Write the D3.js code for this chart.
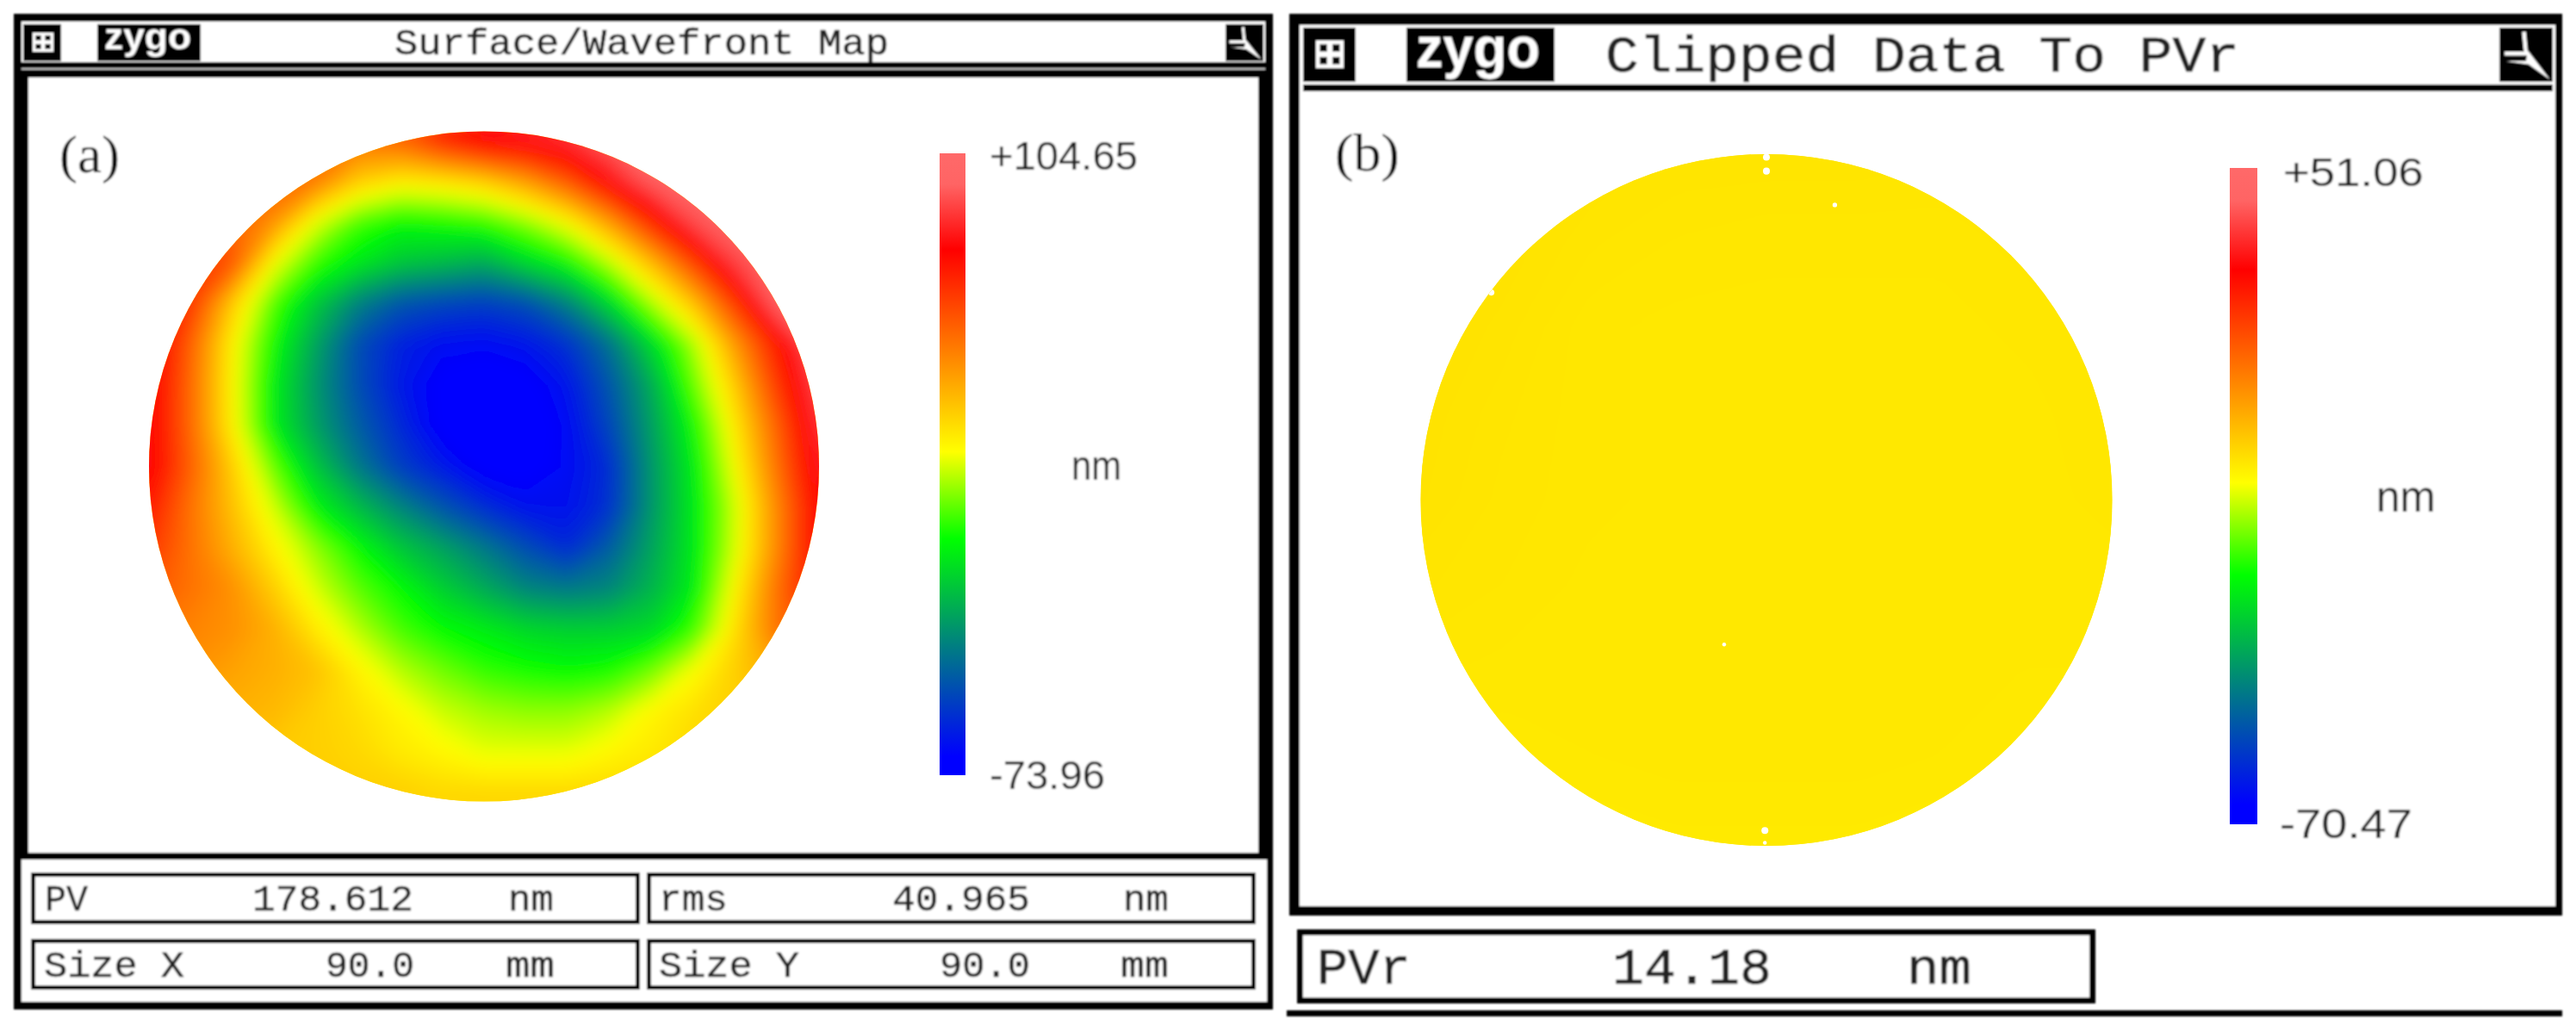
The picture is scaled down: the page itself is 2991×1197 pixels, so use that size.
<!DOCTYPE html>
<html><head><meta charset="utf-8">
<script src="https://cdn.jsdelivr.net/npm/d3@7"></script>
<style>html,body{margin:0;padding:0;background:#fff}svg{display:block}</style>
</head><body><svg id="c" width="2991" height="1197"></svg>
<script>
// Surface height (a), nm, 17 x 17 nodes over the 90 mm aperture
const surfaceA = [
 51,51,51,51,51,51,55,69,80,83,87,96,96,96,96,96,96,
 58,58,58,56,49,31,24,26,31,42,58,80,96,99,99,99,99,
 62,62,55,44,17,1,-6,-4,-1,8,21,42,69,92,99,99,99,
 69,65,58,19,-1,-11,-19,-22,-26,-15,-6,12,35,62,90,99,99,
 76,65,31,1,-19,-36,-47,-51,-53,-49,-36,-15,10,33,64,98,99,
 83,55,22,-6,-28,-49,-60,-65,-66,-63,-56,-40,-15,10,42,72,99,
 81,53,21,-10,-31,-49,-62,-70,-72,-71,-63,-47,-26,3,31,64,92,
 80,53,22,-10,-29,-45,-58,-71,-74,-73,-66,-51,-29,-6,24,55,87,
 80,55,30,3,-20,-38,-53,-62,-71,-71,-66,-57,-31,-10,19,51,83,
 72,51,33,14,-8,-22,-35,-47,-57,-64,-64,-56,-31,-11,14,46,78,
 65,51,37,22,8,-6,-19,-28,-38,-49,-58,-45,-28,-11,15,46,78,
 58,51,44,30,15,3,-6,-17,-26,-35,-38,-35,-24,-10,21,51,76,
 51,47,44,37,24,12,1,-6,-10,-15,-17,-17,-15,-1,26,51,65,
 47,44,40,37,33,22,12,5,-1,-4,-6,-4,5,19,30,40,51,
 37,37,37,35,30,26,21,14,10,8,8,12,21,26,30,33,37,
 33,33,33,31,30,28,24,21,17,17,17,21,24,28,28,28,28,
 33,33,33,31,31,30,30,28,28,28,28,28,28,28,28,28,28
];
// Residual height (b), nm, 9 x 9 nodes
const surfaceB = [
 -2.9,-2.9,-3.0,-3.2,-3.2,-3.2,-3.3,-3.3,-3.3,
 -2.9,-2.9,-3.3,-3.5,-3.6,-3.6,-3.6,-3.4,-3.4,
 -2.8,-3.1,-3.6,-3.7,-3.7,-3.7,-3.7,-3.6,-3.4,
 -2.9,-3.3,-3.6,-3.7,-3.8,-3.8,-3.8,-3.7,-3.5,
 -3.0,-3.4,-3.6,-3.7,-3.8,-3.8,-3.8,-3.7,-3.6,
 -3.3,-3.5,-3.7,-3.7,-3.8,-3.8,-3.8,-3.8,-3.7,
 -3.6,-3.7,-3.7,-3.7,-3.7,-3.7,-3.8,-3.8,-3.8,
 -3.9,-3.9,-3.8,-3.7,-3.7,-3.7,-3.8,-3.9,-4.0,
 -4.1,-4.1,-4.1,-4.0,-4.0,-4.0,-4.1,-4.2,-4.2
];
// Data drop-outs in picture (b): aperture x, y in mm (y up), radius in mm
const dropX = [0, 0, 8.9, -5.5, -0.2, -0.2, -35.8];
const dropY = [42.8, 44.6, 38.4, -18.8, -43, -44.6, 27];
const dropR = [0.45, 0.45, 0.3, 0.25, 0.45, 0.25, 0.4];

// Colour bar: fraction of the range and its colour
const barFractions = [0, 0.03, 0.21, 0.38, 0.52, 0.68, 0.845, 0.95, 1];
const barColours = ["#0000ff","#0000ff","#008080","#00ff00","#ffff00","#ff8000","#ff0000","#ff6464","#ff6969"];

const rangeA = [-73.96, 104.65];
const rangeB = [-70.47, 51.06];
const statLabels = ["PV","rms","Size X","Size Y","PVr"];
const statValues = ["178.612","40.965","90.0","90.0","14.18"];
const statUnits  = ["nm","nm","mm","mm","nm"];

const svg = d3.select("#c");
const defs = svg.append("defs");
defs.append("filter").attr("id","soft").attr("x","-5%").attr("y","-5%").attr("width","110%").attr("height","110%")
  .append("feGaussianBlur").attr("stdDeviation",0.9);
defs.append("filter").attr("id","map").attr("x","-5%").attr("y","-5%").attr("width","110%").attr("height","110%")
  .append("feGaussianBlur").attr("stdDeviation",10);

const frame = svg.append("g").attr("filter","url(#soft)");
const box = (g,x0,y0,x1,y1,f) => g.append("rect").attr("x",x0).attr("y",y0).attr("width",x1-x0).attr("height",y1-y0).attr("fill",f);
const txt = (g,s,x0,x1,base,size,font,fill,w,sw) => g.append("text").text(s)
   .attr("x",x0).attr("y",base).attr("font-family",font).attr("font-size",size).attr("fill",fill||"#111")
   .attr("font-weight",w||"normal").attr("stroke",sw?(fill||"#111"):"none").attr("stroke-width",sw||0)
   .attr("textLength",x1-x0).attr("lengthAdjust","spacingAndGlyphs");

const MONO = "'Liberation Mono',monospace", SANS = "'Liberation Sans',sans-serif", SERIF = "'Liberation Serif',serif";

function closeIcon(g,x0,y0,x1,y1,ix0,iy0,ix1,iy1){
  box(g,x0,y0,x1,y1,"#000");
  box(g,ix0,iy0,ix1,iy1,"#fff");
  const w=(ix1-ix0), h=(iy1-iy0);
  [[.14,.14],[.6,.14],[.14,.6],[.6,.6]].forEach(p=>box(g,ix0+p[0]*w,iy0+p[1]*h,ix0+(p[0]+.26)*w,iy0+(p[1]+.26)*h,"#000"));
}
function cornerIcon(g,x0,y0,x1,y1){
  box(g,x0,y0,x1,y1,"#000");
  const X=d3.scaleLinear([0,1],[x0,x1]),Y=d3.scaleLinear([0,1],[y0,y1]),w=(x1-x0)*.07;
  const l=d3.line().x(d=>X(d[0])).y(d=>Y(d[1]));
  g.append("path").attr("d",l([[.46,.08],[.5,.48],[.1,.48]])).attr("fill","none").attr("stroke","#fff").attr("stroke-width",w);
  g.append("path").attr("d",l([[.12,.62],[.5,.62],[.53,.42],[.95,.96],[.55,.68]])+"Z").attr("fill","#fff");
}

// ---- frames ----
box(frame,16,16,1478,1172,"#000");
box(frame,25,25,1469,72,"#fff");
box(frame,25,79,1469,81,"#bbb");
box(frame,33,90,1461,990,"#fff");
box(frame,25,998,1471,1163,"#fff");
[[36,1013,743,1073],[751,1013,1458,1073],[36,1090,743,1149],[751,1090,1458,1149]].forEach(b=>{
  box(frame,b[0],b[1],b[2],b[3],"#000"); box(frame,b[0]+5,b[1]+5,b[2]-5,b[3]-5,"#fff");
});
closeIcon(frame,27,28,71,71,38,38,62,60);
box(frame,113,28,233,71,"#000");
txt(frame,"zygo",121,222,57,42,SANS,"#fff","bold");
cornerIcon(frame,1423,28,1467,71);
txt(frame,"Surface/Wavefront Map",458,1032,63,42,MONO,"#222",null,0.5);

box(frame,1497,16,2975,1063,"#000");
box(frame,1509,29,2967,1052,"#fff");
box(frame,1513,98,2964,106,"#000");
closeIcon(frame,1513,32,1574,95,1528,47,1560,79);
box(frame,1633,32,1805,95,"#000");
txt(frame,"zygo",1644,1788,78,66,SANS,"#fff","bold");
cornerIcon(frame,2902,32,2964,95);
txt(frame,"Clipped Data To PVr",1864,2600,83,60,MONO,"#222",null,0.7);
box(frame,1506,1079,2433,1165,"#000");
box(frame,1513,1086,2426,1158,"#fff");
box(frame,1494,1173,2975,1180,"#000");

// ---- stats ----
const statRows = [
  {i:0,l:[52,102],v:[293,480],u:[590,643],b:1057,s:42},
  {i:1,l:[765,845],v:[1036,1196],u:[1304,1357],b:1057,s:42},
  {i:2,l:[51,214],v:[378,481],u:[587,644],b:1134,s:42},
  {i:3,l:[765,928],v:[1091,1196],u:[1301,1357],b:1134,s:42},
  {i:4,l:[1529,1638],v:[1872,2057],u:[2214,2289],b:1142,s:60}
];
statRows.forEach(r=>{
  const sw=r.s>50?0.7:0.5;
  txt(frame,statLabels[r.i],r.l[0],r.l[1],r.b,r.s,MONO,"#222",null,sw);
  txt(frame,statValues[r.i],r.v[0],r.v[1],r.b,r.s,MONO,"#222",null,sw);
  txt(frame,statUnits[r.i],r.u[0],r.u[1],r.b,r.s,MONO,"#222",null,sw);
});

txt(frame,"(a)",69,139,200,62,SERIF,"#111");
txt(frame,"(b)",1550,1625,198,62,SERIF,"#111");

// ---- map + colour bar ----
function panel(o){
  const colour = d3.scaleLinear().domain(barFractions.map(f=>o.range[0]+f*(o.range[1]-o.range[0]))).range(barColours);
  const X = d3.scaleLinear([0.5,o.n-0.5],o.xr), Y = d3.scaleLinear([0.5,o.n-0.5],o.yr);
  const clipId = "clip"+o.id;
  defs.append("clipPath").attr("id",clipId).append("circle").attr("cx",o.cx).attr("cy",o.cy).attr("r",o.r);
  const lo=d3.min(o.grid), hi=d3.max(o.grid);
  const th = d3.range(lo-o.step,hi+o.step,o.step);
  const contours = d3.contours().size([o.n,o.n]).smooth(true).thresholds(th)(o.grid);
  const path = d3.geoPath(d3.geoTransform({point(x,y){this.stream.point(X(x),Y(y));}}));
  const outer = svg.append("g").attr("clip-path",`url(#${clipId})`);
  box(outer,o.cx-o.r,o.cy-o.r,o.cx+o.r,o.cy+o.r,colour(d3.median(o.grid)));
  outer.append("g").attr("filter","url(#map)")
    .selectAll("path").data(contours).join("path")
    .attr("d",path).attr("fill",d=>colour(Math.max(d.value,lo))).attr("stroke",d=>colour(Math.max(d.value,lo))).attr("stroke-width",1);

  // colour bar
  const barY = d3.scaleLinear(o.range,[o.bar[3],o.bar[2]]);
  const gid="bar"+o.id;
  const gr=defs.append("linearGradient").attr("id",gid).attr("gradientUnits","userSpaceOnUse")
     .attr("x1",0).attr("x2",0).attr("y1",barY(o.range[0])).attr("y2",barY(o.range[1]));
  barFractions.forEach((f,i)=>gr.append("stop").attr("offset",f).attr("stop-color",barColours[i]));
  svg.append("rect").attr("x",o.bar[0]).attr("width",o.bar[1]-o.bar[0])
     .attr("y",barY(o.range[1])).attr("height",barY(o.range[0])-barY(o.range[1])).attr("fill",`url(#${gid})`);
  o.labels.forEach(l=>txt(frame,l[0],l[1],l[2],l[3],l[4],SANS,"#222"));
  return {outer};
}

panel({id:"A",grid:surfaceA,n:17,step:0.6,range:rangeA,xr:[172.5,950.7],yr:[162,921],cx:562,cy:541.5,r:389,
  bar:[1091,1121,178,900],
  labels:[["+104.65",1149,1321,197,46],["-73.96",1149,1283,916,46],["nm",1244,1302,557,48]]});

const pb = panel({id:"B",grid:surfaceB,n:9,step:0.05,range:rangeB,xr:[1649,2453],yr:[179,982],cx:2051,cy:580.5,r:401.5,
  bar:[2589,2621,195,957],
  labels:[["+51.06",2651,2814,216,46],["-70.47",2647,2801,973,48],["nm",2759,2828,594,52]]});

// drop-outs in panel (b)
const mmX = d3.scaleLinear([-45,45],[2051-401.5,2051+401.5]), mmY = d3.scaleLinear([-45,45],[580.5+401.5,580.5-401.5]);
pb.outer.selectAll("circle.drop").data(dropX.map((x,i)=>({x,y:dropY[i],r:dropR[i]}))).join("circle")
  .attr("cx",d=>mmX(d.x)).attr("cy",d=>mmY(d.y)).attr("r",d=>mmX(d.r)-mmX(0)).attr("fill","#fff");
</script></body></html>
